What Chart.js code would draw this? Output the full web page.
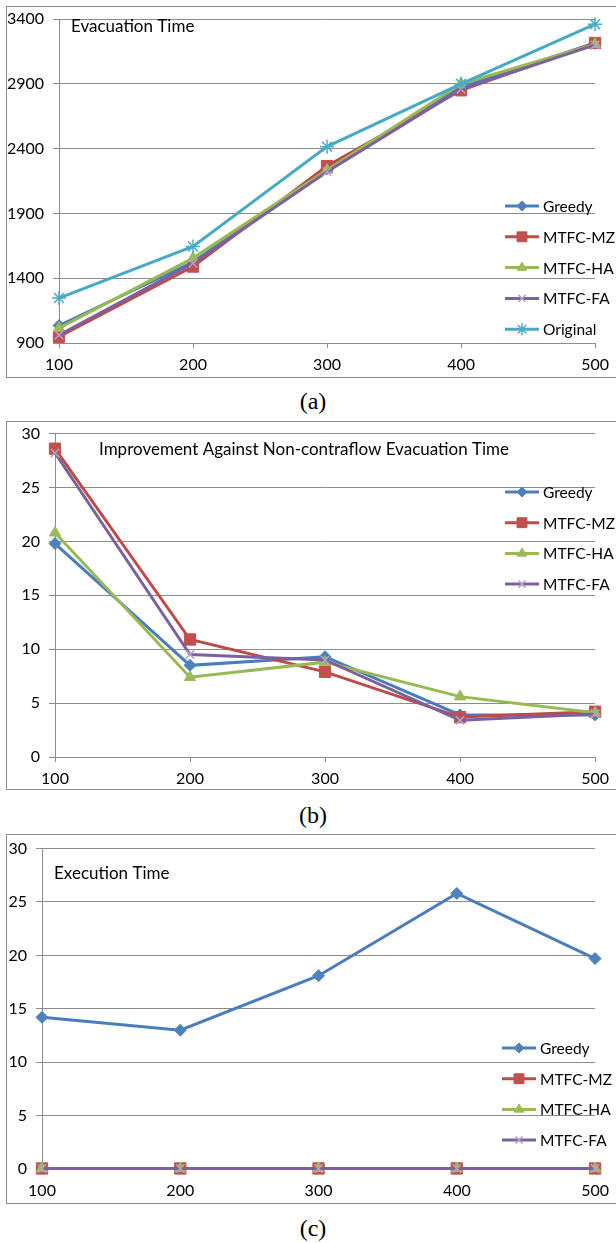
<!DOCTYPE html>
<html>
<head>
<meta charset="utf-8">
<script src="https://cdn.jsdelivr.net/npm/chart.js@4.4.1/dist/chart.umd.min.js"></script>
<style>
  body { margin: 0; background: #fff; width: 616px; height: 1243px; position: relative; overflow: hidden; }
  .box { position: absolute; left: 6px; width: 620px; border: 1.5px solid #8a8a8a; box-sizing: border-box; }
  .wrap { position: absolute; left: 0; width: 616px; height: 385px; }
  .cap { position: absolute; left: 0; width: 626px; text-align: center; font: 24px "Liberation Serif", serif; color: #000; }
</style>
</head>
<body>
<div class="box" style="top:6px;height:372px"></div>
<div class="box" style="top:421px;height:369px"></div>
<div class="box" style="top:834px;height:370px"></div>
<div class="wrap" style="top:0"><canvas id="chartA"></canvas></div>
<div class="wrap" style="top:415px"><canvas id="chartB"></canvas></div>
<div class="wrap" style="top:830px"><canvas id="chartC"></canvas></div>
<div class="cap" style="top:388px">(a)</div>
<div class="cap" style="top:802px">(b)</div>
<div class="cap" style="top:1215px">(c)</div>
<script>
const sizes = ['100', '200', '300', '400', '500']

// (a) evacuation time
const evacGreedy = [1035, 1525, 2245, 2875, 3215]
const evacMZ = [948, 1490, 2265, 2850, 3215]
const evacHA = [1015, 1555, 2235, 2900, 3205]
const evacFA = [962, 1515, 2222, 2858, 3200]
const evacOriginal = [1247, 1645, 2415, 2900, 3360]

// (b) improvement against non-contraflow evacuation time
const impGreedy = [19.8, 8.5, 9.3, 3.9, 3.9]
const impMZ = [28.6, 10.9, 7.9, 3.7, 4.2]
const impHA = [20.8, 7.4, 8.8, 5.6, 4.1]
const impFA = [28.2, 9.5, 9.0, 3.4, 4.0]

// (c) execution time
const execGreedy = [14.2, 13.0, 18.1, 25.8, 19.7]
const execMZ = [0.05, 0.05, 0.05, 0.05, 0.05]
const execHA = [0.05, 0.05, 0.05, 0.05, 0.05]
const execFA = [0.05, 0.05, 0.05, 0.05, 0.05]

const styles = {
  'Greedy': { line: '#4a7ebb', fill: '#4f81bd', point: 'rectRot', radius: 6 },
  'MTFC-MZ': { line: '#be4b48', fill: '#c0504d', point: 'rect', radius: 8 },
  'MTFC-HA': { line: '#98b954', fill: '#9bbb59', point: 'triangle', radius: 6.5 },
  'MTFC-FA': { line: '#7d60a0', fill: '#b3a2c7', point: 'crossRot', radius: 6 },
  'Original': { line: '#46aac5', fill: '#4bacc6', point: 'star', radius: 7 }
}

const FONT = 'Lato, "Open Sans", sans-serif'
const GRID = '#8c8c8c'

function makeDataset(label, values, i, n) {
  const s = styles[label]
  const thin = s.point === 'crossRot' || s.point === 'star'
  return {
    label: label,
    data: values,
    borderColor: s.line,
    backgroundColor: s.fill,
    pointBackgroundColor: s.fill,
    pointBorderColor: s.fill,
    pointBorderWidth: thin ? 1.5 : 1,
    pointStyle: s.point,
    pointRadius: s.radius,
    borderWidth: 3,
    tension: 0,
    fill: false,
    clip: false,
    // later series sit on top, as in the spreadsheet
    order: n - i
  }
}

// title text and legend drawn inside the plot, like the original spreadsheet chart
const overlay = {
  id: 'overlay',
  afterDraw(chart, args, opts) {
    const ctx = chart.ctx
    ctx.save()
    ctx.fillStyle = '#000'
    ctx.font = '17px ' + FONT
    ctx.textBaseline = 'middle'
    ctx.textAlign = 'left'
    ctx.fillText(opts.title, opts.titleX, opts.titleY)

    ctx.font = '15.5px ' + FONT
    chart.data.datasets.forEach((ds, i) => {
      const y = opts.legendY + i * opts.legendGap
      const x0 = opts.legendX
      ctx.strokeStyle = ds.borderColor
      ctx.lineWidth = 3
      ctx.beginPath()
      ctx.moveTo(x0, y)
      ctx.lineTo(x0 + 34, y)
      ctx.stroke()
      ctx.fillStyle = ds.pointBackgroundColor
      ctx.strokeStyle = ds.pointBorderColor
      ctx.lineWidth = ds.pointBorderWidth
      Chart.helpers.drawPoint(ctx, {
        pointStyle: ds.pointStyle,
        radius: ds.pointRadius - 1,
        borderWidth: ds.pointBorderWidth
      }, x0 + 17, y)
      ctx.fillStyle = '#000'
      ctx.fillText(ds.label, x0 + 38, y + 1)
    })
    ctx.restore()
  }
}

function buildChart(id, series, yMin, yMax, yStep, geo, overlayOpts) {
  const n = series.length
  const datasets = series.map((s, i) => makeDataset(s[0], s[1], i, n))
  new Chart(document.getElementById(id), {
    type: 'line',
    data: { labels: sizes, datasets: datasets },
    plugins: [overlay],
    options: {
      responsive: true,
      maintainAspectRatio: false,
      animation: false,
      layout: { padding: { top: geo.top, right: 20, left: 0, bottom: 0 } },
      plugins: {
        legend: { display: false },
        tooltip: { enabled: false },
        overlay: overlayOpts
      },
      scales: {
        x: {
          offset: false,
          grid: { drawOnChartArea: false, drawTicks: true, tickLength: 5, color: GRID },
          border: { color: GRID, width: 1 },
          ticks: { color: '#000', font: { family: FONT, size: 16 }, padding: 7, maxRotation: 0 },
          afterFit: scale => { scale.height = geo.xh }
        },
        y: {
          min: yMin,
          max: yMax,
          grid: { color: GRID, lineWidth: 1, tickLength: 6 },
          border: { color: GRID, width: 1 },
          ticks: {
            stepSize: yStep,
            color: '#000',
            font: { family: FONT, size: 16 },
            padding: geo.ypad,
            callback: v => String(v)
          },
          afterFit: scale => { scale.width = geo.left }
        }
      }
    }
  })
}

buildChart('chartA', [
  ['Greedy', evacGreedy], ['MTFC-MZ', evacMZ], ['MTFC-HA', evacHA],
  ['MTFC-FA', evacFA], ['Original', evacOriginal]
], 900, 3400, 500,
  { top: 19, xh: 42, left: 59, ypad: 9 },
  { title: 'Evacuation Time', titleX: 71, titleY: 27, legendX: 505, legendY: 206, legendGap: 30.8 })

buildChart('chartB', [
  ['Greedy', impGreedy], ['MTFC-MZ', impMZ], ['MTFC-HA', impHA], ['MTFC-FA', impFA]
], 0, 30, 5,
  { top: 18, xh: 43, left: 55, ypad: 9 },
  { title: 'Improvement Against Non-contraflow Evacuation Time', titleX: 99, titleY: 35, legendX: 505, legendY: 77, legendGap: 30.7 })

buildChart('chartC', [
  ['Greedy', execGreedy], ['MTFC-MZ', execMZ], ['MTFC-HA', execHA], ['MTFC-FA', execFA]
], 0, 30, 5,
  { top: 15, xh: 46, left: 42, ypad: 9 },
  { title: 'Execution Time', titleX: 54, titleY: 44, legendX: 502, legendY: 218, legendGap: 30.7 })
</script>
</body>
</html>
